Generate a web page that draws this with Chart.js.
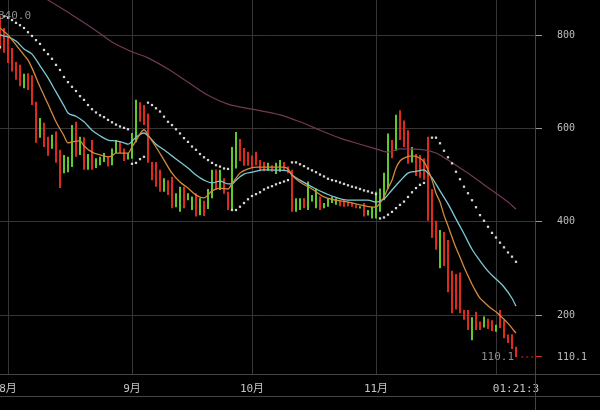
<!DOCTYPE html>
<html>
<head>
<meta charset="utf-8">
<script src="https://cdn.jsdelivr.net/npm/chart.js@4.4.1/dist/chart.umd.min.js"></script>
<style>
  html, body { margin: 0; padding: 0; background: #000; }
  canvas { display: block; }
</style>
</head>
<body>
<canvas id="kline" width="600" height="410"></canvas>
<script>
// day 0 = Aug 1, first visible bar is two days earlier
const firstDay = -2;

const barLow = [
  770, 762, 740, 722, 704, 690, 686, 682, 650, 569,
  580, 560, 541, 556, 526, 472, 504, 506, 517, 539,
  543, 511, 511, 511, 515, 521, 528, 518, 521, 547,
  547, 530, 533, 535, 570, 614, 607, 526, 489, 475,
  464, 464, 457, 429, 431, 421, 429, 446, 425, 411,
  414, 412, 427, 450, 468, 468, 460, 425, 425, 514,
  530, 520, 520, 516, 521, 508, 508, 509, 507, 502,
  507, 509, 504, 421, 421, 425, 429, 425, 443, 429,
  425, 429, 432, 440, 436, 433, 432, 433, 432, 429,
  428, 411, 413, 407, 407, 421, 446, 470, 536, 552,
  575, 560, 524, 527, 498, 494, 490, 402, 365, 340,
  300, 305, 249, 204, 212, 204, 190, 168, 146, 168,
  168, 173, 170, 166, 164, 172, 150, 140, 127, 110.1
];
const barHigh = [
  840, 815, 795, 772, 742, 736, 717, 718, 714, 657,
  622, 612, 582, 586, 593, 554, 543, 539, 607, 614,
  582, 581, 545, 575, 536, 539, 547, 539, 557, 575,
  571, 557, 547, 590, 661, 656, 650, 632, 528, 528,
  511, 493, 489, 496, 461, 475, 475, 461, 454, 461,
  450, 445, 470, 511, 512, 511, 493, 464, 560, 592,
  577, 558, 550, 542, 550, 532, 528, 526, 521, 526,
  532, 528, 518, 511, 450, 450, 450, 486, 457, 471,
  454, 440, 450, 454, 450, 446, 446, 443, 440, 436,
  433, 440, 425, 432, 464, 471, 505, 589, 575, 629,
  639, 617, 596, 560, 545, 543, 536, 582, 470, 402,
  382, 378, 361, 295, 288, 291, 211, 211, 195, 207,
  186, 197, 192, 189, 179, 211, 189, 158, 159, 132
];
// 1 = rising day (green), 0 = falling day (red)
const barUp = [
  0, 0, 0, 0, 0, 0, 1, 0, 0, 0,
  1, 0, 0, 1, 0, 0, 1, 1, 1, 0,
  1, 0, 1, 0, 1, 1, 1, 0, 1, 1,
  0, 0, 1, 1, 1, 0, 0, 0, 0, 0,
  0, 1, 0, 0, 1, 1, 0, 1, 1, 0,
  1, 0, 1, 1, 0, 1, 0, 0, 1, 1,
  0, 0, 0, 0, 0, 0, 0, 1, 0, 1,
  1, 0, 0, 0, 1, 1, 0, 1, 1, 1,
  0, 1, 1, 1, 1, 0, 0, 0, 0, 0,
  1, 0, 1, 1, 1, 1, 1, 1, 0, 1,
  0, 0, 0, 1, 0, 0, 0, 0, 0, 0,
  1, 0, 0, 0, 0, 0, 0, 0, 1, 0,
  0, 1, 0, 0, 1, 0, 0, 0, 0, 0
];
// parabolic SAR, one dot per day
const sar = [
  774, 840, 837, 832, 826, 821, 815, 806, 798, 789,
  781, 768, 759, 749, 736, 725, 710, 699, 689, 680,
  669, 661, 650, 641, 634, 628, 624, 618, 613, 608,
  604, 601, 598, 524, 526, 534, 539, 655, 650, 643,
  636, 625, 614, 607, 598, 589, 579, 571, 561, 554,
  545, 538, 532, 526, 521, 518, 514, 513, 425, 425,
  432, 440, 448, 455, 459, 463, 469, 473, 476, 480,
  483, 486, 489, 527, 527, 523, 519, 514, 510, 506,
  501, 497, 492, 489, 487, 484, 481, 478, 475, 473,
  470, 467, 465, 462, 459, 407, 409, 415, 421, 429,
  436, 443, 453, 463, 472, 479, 483, null, 580, 580,
  568, 552, 538, 525, 507, 491, 475, 461, 446, 431,
  414, 402, 389, 376, 366, 355, 345, 334, 325, 314
];

// moving averages, read at key days
const maFastDays = [-2, 0, 2, 4, 5, 6, 8, 10, 12, 14, 15, 16, 18, 19, 21, 23, 25, 26, 27, 30,
  31, 32, 34, 35, 37, 39, 41, 43, 45, 47, 49, 51, 53, 55, 56, 58, 60, 62, 69, 70,
  71, 73, 76, 79, 82, 85, 88, 91, 92, 93, 94, 95, 96, 97, 98, 99, 101, 103, 104, 105,
  106, 107, 108, 109, 110, 111, 112, 113, 114, 115, 116, 117, 118, 119, 120, 121, 122, 123, 124, 125, 126, 127];
const maFastVals = [815, 800, 779, 757, 746, 729, 689, 652, 614, 584, 569, 571, 573, 562, 549, 543, 539, 541, 547, 547,
  560, 573, 597, 586, 560, 532, 504, 485, 472, 457, 451, 466, 472, 470, 481, 504, 513, 517, 517, 513,
  500, 485, 470, 453, 446, 442, 436, 431, 431, 440, 453, 472, 489, 515, 530, 536, 541, 536, 528, 511,
  489, 461, 442, 414, 391, 367, 344, 324, 303, 284, 266, 250, 236, 228, 220, 213, 207, 199, 191, 182, 172, 161];

const maMidDays = [-2, 0, 2, 4, 6, 8, 10, 12, 14, 15, 17, 19, 21, 23, 25, 27, 29, 30, 32, 34,
  35, 37, 39, 41, 43, 45, 47, 49, 51, 53, 55, 56, 57, 59, 61, 64, 70, 71, 73, 77,
  81, 85, 90, 92, 94, 96, 98, 100, 102, 104, 105, 106, 108, 110, 112, 114, 116, 118, 120, 122,
  124, 126, 127];
const maMidVals = [800, 796, 787, 770, 759, 734, 708, 678, 648, 633, 626, 614, 596, 584, 575, 573, 569, 566, 581, 590,
  584, 566, 554, 541, 528, 515, 500, 489, 483, 487, 481, 481, 489, 502, 506, 511, 509, 500, 489, 470,
  455, 446, 446, 442, 449, 468, 487, 504, 508, 511, 504, 494, 466, 438, 406, 374, 341, 316, 294, 277,
  260, 236, 219];

const maSlowDays = [-2, 10, 15, 18, 22, 26, 31, 35, 40, 45, 50, 55, 61, 68, 73, 78, 83, 88, 92, 95,
  98, 104, 107, 110, 113, 116, 119, 122, 125, 127];
const maSlowVals = [939, 875, 849, 832, 809, 785, 764, 751, 727, 699, 671, 652, 641, 629, 614, 596, 579, 566, 556, 549,
  556, 554, 547, 532, 515, 498, 479, 461, 442, 427];

const yTicks = [200, 400, 600, 800];
const lastPrice = 110.1;
const monthDays = [0, 31, 61, 92, 122];
const monthLabels = ['8月', '9月', '10月', '11月', '12月'];
const nowDay = 127;
const nowLabel = '01:21:3';

const upColor = '#5fc92b';
const downColor = '#de2a1d';
const gridColor = '#363636';
const mono = "'DejaVu Sans Mono', 'Noto Sans CJK SC', monospace";

const days = barLow.map((_, i) => firstDay + i);
const pts = (xs, ys) => xs.map((d, i) => ({x: d, y: ys[i]}));

const xMin = -2, xMax = 131.75;
const yMin = 73.6, yMax = 875;

const frame = {
    id: 'frame',
    afterDraw(chart) {
        const {ctx, chartArea: a, scales: {x, y}} = chart;
        ctx.save();
        ctx.strokeStyle = '#444';
        ctx.lineWidth = 1;
        ctx.beginPath();
        ctx.moveTo(0, a.bottom + 0.5); ctx.lineTo(chart.width, a.bottom + 0.5);
        ctx.moveTo(a.right + 0.5, 0); ctx.lineTo(a.right + 0.5, chart.height);
        ctx.moveTo(0, a.bottom + 22.5); ctx.lineTo(chart.width, a.bottom + 22.5);
        ctx.stroke();

        // max / min price labels
        const hi = Math.max(...barHigh), lo = Math.min(...barLow);
        const hiI = barHigh.indexOf(hi), loI = barLow.indexOf(lo);
        ctx.font = '11px ' + mono;
        ctx.fillStyle = '#8c8c8c';
        ctx.textBaseline = 'middle';
        ctx.textAlign = 'left';
        ctx.fillText(hi.toFixed(1), x.getPixelForValue(days[hiI]) - 2, y.getPixelForValue(hi));
        ctx.textAlign = 'right';
        ctx.fillText(lo.toFixed(1), x.getPixelForValue(days[loI]) - 2, y.getPixelForValue(lo));
        ctx.restore();
    }
};

new Chart('kline', {
    type: 'bar',
    data: {
        datasets: [{
            type: 'bar',
            data: days.map((d, i) => ({x: d, y: [barLow[i], barHigh[i]]})),
            backgroundColor: barUp.map(u => u ? upColor : downColor),
            barThickness: 2,
            inflateAmount: 0,
            borderWidth: 0,
            order: 10
        }, {
            type: 'line',
            data: pts(maSlowDays, maSlowVals),
            borderColor: '#733857',
            borderWidth: 1.2,
            pointRadius: 0,
            cubicInterpolationMode: 'monotone',
            order: 5
        }, {
            type: 'line',
            data: pts(maMidDays, maMidVals),
            borderColor: '#7cc9d2',
            borderWidth: 1.3,
            pointRadius: 0,
            cubicInterpolationMode: 'monotone',
            order: 4
        }, {
            type: 'line',
            data: pts(maFastDays, maFastVals),
            borderColor: '#d48a3e',
            borderWidth: 1.3,
            pointRadius: 0,
            cubicInterpolationMode: 'monotone',
            order: 3
        }, {
            type: 'line',
            data: pts(days, sar),
            showLine: false,
            pointStyle: 'rect',
            pointRadius: 1.6,
            pointBorderWidth: 0,
            pointBackgroundColor: '#d6d6d6',
            order: 1
        }, {
            type: 'line',
            data: [{x: nowDay + 1.3, y: lastPrice}, {x: xMax, y: lastPrice}],
            borderColor: downColor,
            borderWidth: 1,
            borderDash: [2, 3],
            pointRadius: 0,
            order: 2
        }]
    },
    options: {
        responsive: false,
        devicePixelRatio: 1,
        animation: false,
        events: [],
        layout: { padding: 0, autoPadding: false },
        plugins: {
            legend: { display: false },
            tooltip: { enabled: false }
        },
        scales: {
            x: {
                type: 'linear',
                min: xMin,
                max: xMax,
                offset: false,
                afterBuildTicks: s => { s.ticks = monthDays.concat([nowDay]).map(v => ({value: v})); },
                afterFit: s => { s.height = 36; s.paddingLeft = 0; s.paddingRight = 0; },
                grid: {
                    offset: false,
                    drawTicks: false,
                    color: c => c.tick && c.tick.value === nowDay ? 'rgba(0,0,0,0)' : gridColor
                },
                border: { display: false },
                ticks: {
                    autoSkip: false,
                    maxRotation: 0,
                    padding: 9,
                    color: '#c4c4c4',
                    font: { family: mono, size: 11 },
                    callback: v => {
                        if (v === nowDay) return nowLabel;
                        if (nowDay - v < 8) return '';
                        return monthLabels[monthDays.indexOf(v)];
                    }
                }
            },
            y: {
                position: 'right',
                min: yMin,
                max: yMax,
                afterBuildTicks: s => { s.ticks = [lastPrice].concat(yTicks).map(v => ({value: v})); },
                afterFit: s => { s.width = 65; s.paddingTop = 0; s.paddingBottom = 0; },
                grid: {
                    drawTicks: true,
                    tickLength: 7,
                    color: c => c.tick && c.tick.value === lastPrice ? 'rgba(0,0,0,0)' : gridColor,
                    tickColor: c => c.tick && c.tick.value === lastPrice ? downColor : '#9a9a9a'
                },
                border: { display: false },
                ticks: {
                    autoSkip: false,
                    padding: 15,
                    color: '#bdbdbd',
                    font: { family: mono, size: 10 },
                    callback: v => v === lastPrice ? v.toFixed(1) : String(v)
                }
            }
        }
    },
    plugins: [frame]
});
</script>
</body>
</html>
